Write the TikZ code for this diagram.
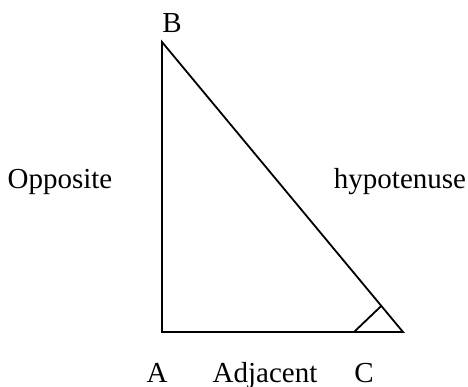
\documentclass[tikz,border=0pt]{standalone}
\usepackage{fontspec}
\setmainfont{Liberation Serif}
\usetikzlibrary{calc,positioning}

\begin{document}
\begin{tikzpicture}[x=1pt, y=-1pt,
  line width=1.8pt,
  lbl/.style={inner sep=0pt, anchor=base, font=\fontsize{29}{34}\selectfont}
]
\useasboundingbox (0,0) rectangle (468,387);
% Corners of the triangle
\coordinate (A) at (162,332);
\coordinate (B) at (162,42);
\coordinate (C) at (403,332);
% Sides
\draw (A) -- (B) -- (C) -- cycle;
% Angle mark at C
\coordinate (m1) at (354,332);
\coordinate (m2) at ($(C)!0.09!(B)$);
\draw (m1) -- (m2);
% Labels
\node[lbl] (lB) at (172,33) {B};
\node[lbl] (lopp) at (60,189) {Opposite};
\node[lbl] (lhyp) at (400,189) {hypotenuse};
\node[lbl] (lA) at (157,382) {A};
\node[lbl] (ladj) at (265,382) {Adjacent};
\node[lbl] (lC) at (364,382) {C};
\end{tikzpicture}
\end{document}
